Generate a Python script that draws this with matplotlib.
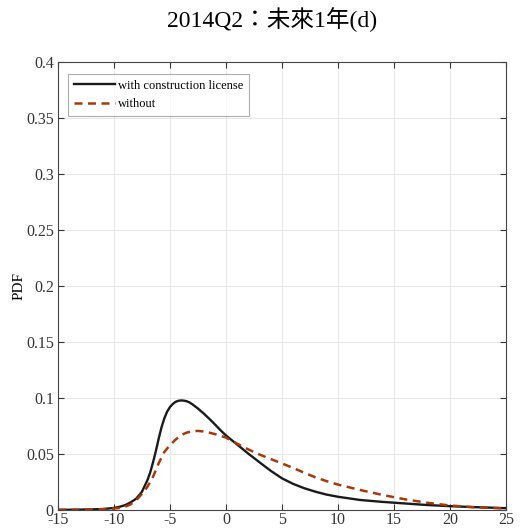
import numpy as np
import matplotlib.pyplot as plt

plt.rcParams['font.family'] = ['Liberation Serif', 'Noto Sans CJK TC']
plt.rcParams['axes.unicode_minus'] = False

# values
x_with = [-15, -13, -11, -10, -9.5, -9, -8.5, -8, -7.5, -7, -6.75, -6.5, -6.25, -6, -5.75,
          -5.5, -5.25, -5, -4.75, -4.5, -4.25, -4, -3.75, -3.5, -3.25, -3, -2.5, -2,
          -1.5, -1, -0.5, 0, 0.5, 1, 1.5, 2, 3, 4, 5, 6, 7, 8, 9, 10,
          12, 14, 16, 18, 20, 22, 25]
pdf_with = [0.0003, 0.0005, 0.001, 0.002, 0.003, 0.0045, 0.007, 0.0104, 0.0164, 0.027,
            0.034, 0.043, 0.053, 0.064, 0.074, 0.082, 0.088, 0.092, 0.0948, 0.0967,
            0.0977, 0.098, 0.0978, 0.0973, 0.0962, 0.0946, 0.0908, 0.0865, 0.0818,
            0.0768, 0.0716, 0.0668, 0.0627, 0.0587, 0.0546, 0.0505, 0.0428, 0.0352,
            0.0285, 0.0235, 0.0196, 0.0165, 0.0139, 0.012, 0.0091, 0.0074, 0.006,
            0.0046, 0.0036, 0.0028, 0.0018]

x_without = [-15, -13, -11, -10, -9.5, -9, -8.5, -8, -7.5, -7, -6.5, -6, -5.5, -5, -4.5,
             -4, -3.5, -3, -2.5, -2, -1.5, -1, -0.5, 0, 1, 2, 3, 4, 5, 6, 7, 8, 9, 10,
             12, 14, 16, 18, 20, 22, 25]
pdf_without = [0.0003, 0.0005, 0.0009, 0.0015, 0.002, 0.003, 0.0053, 0.009, 0.0145,
               0.021, 0.030, 0.042, 0.052, 0.058, 0.063, 0.067, 0.0693, 0.0705, 0.0708,
               0.0703, 0.0693, 0.068, 0.0665, 0.0648, 0.0594, 0.0543, 0.0497, 0.0457,
               0.0418, 0.0377, 0.0334, 0.0293, 0.0259, 0.0229, 0.018, 0.0136, 0.0097,
               0.0066, 0.0042, 0.0027, 0.0015]

fig = plt.figure(figsize=(5.22, 5.32), dpi=100)
ax = fig.add_axes([0.111, 0.041, 0.858, 0.842])

ax.plot(x_with, pdf_with, color='#1a1a1a', linewidth=1.7, label='with construction license')
ax.plot(x_without, pdf_without, color='#A33A0C', linewidth=1.8, linestyle=(0, (3.2, 2.2)),
        label='without')

ax.set_xlim(-15, 25)
ax.set_ylim(0, 0.4)
ax.set_xticks(np.arange(-15, 26, 5))
ax.set_yticks(np.arange(0, 0.41, 0.05))
ax.set_yticklabels(['0', '0.05', '0.1', '0.15', '0.2', '0.25', '0.3', '0.35', '0.4'])
ax.tick_params(direction='in', top=True, right=True, labelsize=11.5, length=4,
               width=0.8, colors='#333333')
ax.tick_params(axis='y', pad=3)
ax.tick_params(axis='x', pad=1.5)
ax.grid(True, color='#e6e6e6', linewidth=0.7)
for s in ax.spines.values():
    s.set_color('#444444')
    s.set_linewidth(0.8)

ax.set_ylabel('PDF', fontsize=11, labelpad=0)
ax.set_title('2014Q2：未來1年(d)', fontsize=17, pad=25, x=0.478)

leg = ax.legend(loc='upper left', fontsize=9, frameon=True, fancybox=False,
                edgecolor='#999999', borderpad=0.5, handlelength=3.3, handletextpad=0.2,
                labelspacing=0.5, bbox_to_anchor=(0.0, 0.997), borderaxespad=0.8)
leg.get_frame().set_linewidth(0.8)

fig.savefig('out.png', dpi=100)
